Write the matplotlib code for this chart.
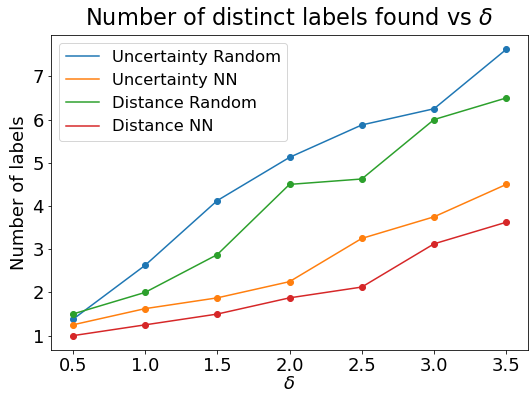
import matplotlib
matplotlib.use("Agg")
import matplotlib.pyplot as plt

# delta values and number of distinct labels per strategy
deltas = [0.5, 1.0, 1.5, 2.0, 2.5, 3.0, 3.5]
uncertainty_random = [1.375, 2.625, 4.125, 5.125, 5.875, 6.25, 7.625]
uncertainty_nn = [1.25, 1.625, 1.875, 2.25, 3.25, 3.75, 4.5]
distance_random = [1.5, 2.0, 2.875, 4.5, 4.625, 6.0, 6.5]
distance_nn = [1.0, 1.25, 1.5, 1.875, 2.125, 3.125, 3.625]

series = [
    ("Uncertainty Random", uncertainty_random),
    ("Uncertainty NN", uncertainty_nn),
    ("Distance Random", distance_random),
    ("Distance NN", distance_nn),
]

fig = plt.figure(figsize=(530 / 72, 403 / 72), dpi=72)
ax = fig.add_axes([51 / 530, 1 - 350 / 403, 477 / 530, 315 / 403])

for name, vals in series:
    line, = ax.plot(deltas, vals, label=name, lw=1.5)
    ax.scatter(deltas, vals, color=line.get_color(), s=36, zorder=3)

ax.set_title(r"Number of distinct labels found vs $\delta$", fontsize=22.5, pad=10)
ax.set_xlabel(r"$\delta$", fontsize=18, labelpad=0)
ax.set_ylabel("Number of labels", fontsize=18)
ax.tick_params(labelsize=18)
ax.set_yticks([1, 2, 3, 4, 5, 6, 7])
ax.legend(loc="upper left", fontsize=16.4)

fig.savefig("out.png", dpi=72)
